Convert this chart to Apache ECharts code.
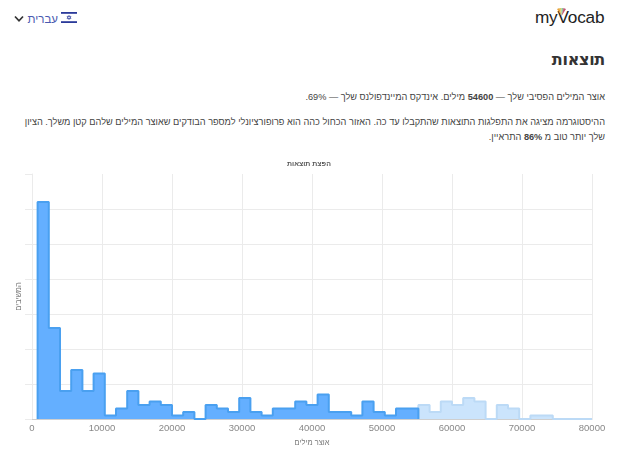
<!DOCTYPE html>
<html lang="he">
<head>
<meta charset="utf-8">
<title>תוצאות</title>
<style>
html,body{margin:0;padding:0;background:#fff;width:640px;height:471px;overflow:hidden;font-family:"Liberation Sans",Arial,sans-serif;color:#333}
.abs{position:absolute}
#chart{position:absolute;left:0;top:150px;width:640px;height:300px}
p{margin:0;direction:rtl;text-align:right;font-size:9.2px;line-height:15px;color:#444;white-space:nowrap}
</style>
<script src="https://cdn.jsdelivr.net/npm/echarts@6/dist/echarts.min.js"></script>
</head>
<body>
<svg class="abs" style="left:14px;top:15px" width="10" height="8" viewBox="0 0 10 8"><path d="M1 1.5 L5 5.8 L9 1.5" fill="none" stroke="#333" stroke-width="1.7"/></svg>
<div class="abs" dir="rtl" style="left:28px;top:11px;width:30px;font-size:11.5px;line-height:16px;color:#4a5ab0;white-space:nowrap">עברית</div>
<svg class="abs" style="left:61px;top:12px" width="16" height="11" viewBox="0 0 16 11">
<rect width="16" height="11" fill="#fff"/><rect y="0" width="16" height="1.8" fill="#2b3a9a"/><rect y="9.2" width="16" height="1.8" fill="#2b3a9a"/>
<path d="M8 3.4 L10 6.6 L6 6.6Z M8 7.6 L6 4.4 L10 4.4Z" fill="none" stroke="#2b3a9a" stroke-width=".6"/></svg>
<div class="abs" style="left:535px;top:7px;width:72px;font-family:'Liberation Sans';font-size:17.2px;line-height:20px;letter-spacing:-.2px;color:#222;white-space:nowrap">myVocab</div>
<svg class="abs" style="left:555px;top:8px" width="13" height="8" viewBox="0 0 13 8">
<path d="M6.5 8 L2 1 L4.5 0Z" fill="#e8a33d"/><path d="M6.5 8 L4.5 0 L6.5 0Z" fill="#d9d26a"/><path d="M6.5 8 L6.5 0 L8.5 0Z" fill="#8ec7a0"/><path d="M6.5 8 L8.5 0 L11 1Z" fill="#c05a78"/></svg>
<div class="abs" dir="rtl" style="right:35px;top:48px;font-family:'DejaVu Sans';font-weight:bold;font-size:16px;letter-spacing:-.3px;line-height:24px;color:#333">תוצאות</div>
<p class="abs" style="left:25px;top:90px;width:580px">אוצר המילים הפסיבי שלך — <b>54600</b> מילים. אינדקס המיינדפולנס שלך — 69%.</p>
<p class="abs" style="left:25px;top:115px;width:580px">ההיסטוגרמה מציגה את התפלגות התוצאות שהתקבלו עד כה. האזור הכחול כהה הוא פרופורציונלי למספר הבודקים שאוצר המילים שלהם קטן משלך. הציון<br>שלך יותר טוב מ <b>86%</b> התראיין.</p>
<div id="chart"></div>
<script>
const darkBinStarts = [800,2400,4000,5600,7200,8800,10400,12000,13600,15200,16800,18400,20000,21600,23200,24800,26400,28000,29600,31200,32800,34400,36000,37600,39200,40800,42400,44000,45600,47200,48800,50400,52000,53600];
const darkCounts =    [62,26,8,14,8,13,1,3,8,4,5,4,1,2,0,4,3,2,6,2,1,3,3,5,4,7,2,2,1,5,2,1,3,3];
const lightBinStarts = [55200,56800,58400,60000,61600,63200,64800,66400,68000,69600,71200,72800,74400,76000,77600,79200];
const lightCounts =    [4,2,5,4,6,5,0,4,3,0,1,1,0,0,0,0];
const chartTitle = 'הפצת תוצאות';
const xName = 'אוצר מילים';
const yName = 'המשיבים';

function stepData(starts, counts, end) {
  const pts = [[starts[0], 0]];
  starts.forEach((s, i) => pts.push([s, counts[i]]));
  pts.push([end, counts[counts.length - 1]]);
  pts.push([end, 0]);
  return pts;
}
const chart = echarts.init(document.getElementById('chart'), null, {renderer: 'canvas'});
const labelFont = '"Liberation Sans",Arial,sans-serif';
chart.setOption({
  animation: false,
  title: {text: chartTitle, left: 304, top: 6, textAlign: 'center', textStyle: {fontSize: 7, fontWeight: 'bold', color: '#555', fontFamily: labelFont}},
  grid: {left: 32, right: 48, top: 24, bottom: 31, outerBoundsMode: 'none'},
  xAxis: {
    type: 'value', min: 0, max: 80000, interval: 10000,
    name: xName, nameLocation: 'middle', nameGap: 20,
    nameTextStyle: {fontSize: 7.5, color: '#777', fontFamily: labelFont},
    axisLine: {show: true, lineStyle: {color: '#cfcfcf', width: 1}},
    axisTick: {show: false},
    axisLabel: {fontSize: 9.5, color: '#888', margin: 4, fontFamily: labelFont, formatter: v => String(v)},
    splitLine: {show: true, lineStyle: {color: '#ebebeb', width: 1}}
  },
  yAxis: {
    type: 'value', min: 0, max: 70, interval: 10,
    name: yName, nameLocation: 'middle', nameGap: 9, nameRotate: 90,
    nameTextStyle: {fontSize: 7.5, color: '#777', fontFamily: labelFont},
    axisLine: {show: true, lineStyle: {color: '#ebebeb'}},
    axisTick: {show: true, length: 7, lineStyle: {color: '#ebebeb'}},
    axisLabel: {show: false},
    splitLine: {show: true, showMaxLine: false, lineStyle: {color: '#ebebeb', width: 1}}
  },
  series: [
    {type: 'line', step: 'end', symbol: 'none', z: 3, clip: false,
     data: stepData(lightBinStarts, lightCounts, 80000),
     lineStyle: {color: '#bcdaf6', width: 2}, areaStyle: {color: '#cbe4fc', opacity: 1}},
    {type: 'line', step: 'end', symbol: 'none', z: 4, clip: false,
     data: stepData(darkBinStarts, darkCounts, 55200),
     lineStyle: {color: '#4aa0f0', width: 2}, areaStyle: {color: '#64afff', opacity: 1}}
  ]
});
</script>
</body>
</html>
